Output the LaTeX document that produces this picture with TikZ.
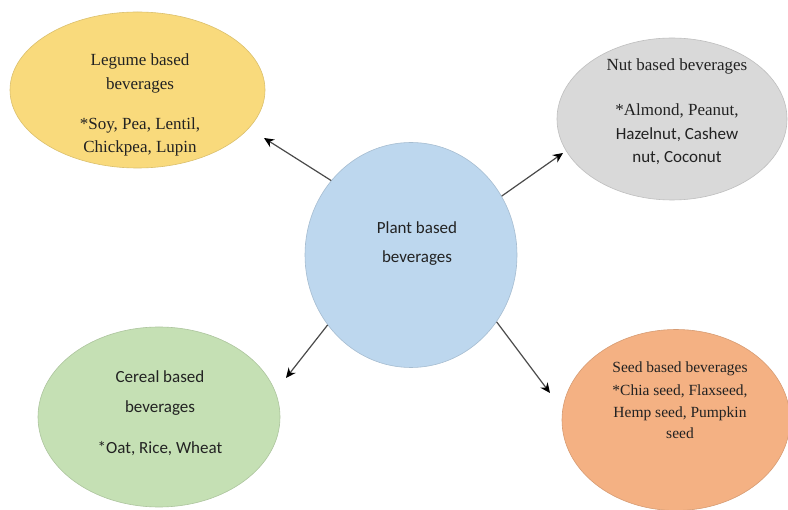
\documentclass[tikz,border=0pt]{standalone}
\usepackage{fontspec}
\setmainfont{Liberation Serif}
\newfontfamily\tnr{Liberation Serif}
\newfontfamily\calib{Carlito}
\usetikzlibrary{shapes.geometric,arrows.meta}
\definecolor{legfill}{HTML}{F9DA7C}
\definecolor{nutfill}{HTML}{D9D9D9}
\definecolor{plantfill}{HTML}{BDD7EE}
\definecolor{cerfill}{HTML}{C5E0B4}
\definecolor{seedfill}{HTML}{F4B183}
\definecolor{txt}{HTML}{222222}
\definecolor{arr}{HTML}{4A4A4A}
\tikzset{
  blob/.style={ellipse, inner sep=0pt, draw=#1!88!black, fill=#1, line width=0.6pt},
  lbl/.style={align=center, text=txt, inner sep=0pt},
  conn/.style={draw=arr, line width=1.2pt, -{Stealth[length=10pt,width=9pt,color=black]}}
}
\begin{document}
\begin{tikzpicture}[x=1pt,y=-1pt]
\useasboundingbox[fill=white] (0,0) rectangle (788,510);
% shapes
\node[blob=legfill, minimum width=255pt, minimum height=156pt] (legume) at (137.5,90) {};
\node[blob=nutfill, minimum width=230pt, minimum height=162pt] (nut) at (672,119) {};
\node[blob=plantfill, minimum width=212pt, minimum height=225pt] (plant) at (411,255) {};
\node[blob=cerfill, minimum width=242pt, minimum height=180pt] (cereal) at (159,417) {};
\node[blob=seedfill, minimum width=228pt, minimum height=181pt] (seed) at (676,420) {};
% texts
\node[lbl, font=\tnr\fontsize{17}{23.5}\selectfont] (legumetxt) at (140,105)
  {Legume based\\beverages\\[16.5pt]*Soy, Pea, Lentil,\\Chickpea, Lupin};
\node[lbl, font=\tnr\fontsize{17}{23.5}\selectfont] (nuttxt) at (677,112)
  {Nut based beverages\\[21.5pt]*Almond, Peanut,\\{\calib Hazelnut, Cashew}\\{\calib nut, Coconut}};
\node[lbl, font=\calib\fontsize{17}{29}\selectfont] (planttxt) at (417,244)
  {Plant based\\beverages};
\node[lbl, font=\calib\fontsize{17}{30}\selectfont] (cerealtxt) at (160,413.5)
  {Cereal based\\beverages\\[11pt]*Oat, Rice, Wheat};
\node[lbl, font=\tnr\fontsize{15.5}{21.7}\selectfont] (seedtxt) at (680,400.5)
  {Seed based beverages\\[1pt]*Chia seed, Flaxseed,\\Hemp seed, Pumpkin\\seed};
% arrow tips
\coordinate (tipL) at (264,138);
\coordinate (tipN) at (563,153);
\coordinate (tipC) at (286,378);
\coordinate (tipS) at (550,393);
\draw[conn] (plant.137.5) -- (tipL);
\draw[conn] (plant.33.8) -- (tipN);
\draw[conn] (plant.220) -- (tipC);
\draw[conn] (plant.322.6) -- (tipS);
\end{tikzpicture}
\end{document}
